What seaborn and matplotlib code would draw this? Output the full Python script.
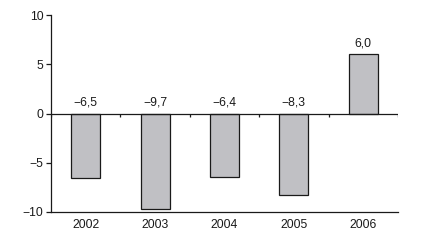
import matplotlib
matplotlib.use("Agg")
import matplotlib.pyplot as plt
import seaborn as sns
import numpy as np
import pandas as pd

years = ["2002", "2003", "2004", "2005", "2006"]
values = [-6.5, -9.7, -6.4, -8.3, 6.0]
labels = ["\u22126,5", "\u22129,7", "\u22126,4", "\u22128,3", "6,0"]
yticks = [-10, -5, 0, 5, 10]
yticklabels = ["\u221210", "\u22125", "0", "5", "10"]

sns.set_style("white")
plt.rcParams['font.family'] = ['Liberation Sans', 'DejaVu Sans']

fig = plt.figure(figsize=(4.34, 2.43), dpi=100)
ax = fig.add_axes([0.1175, 0.1276, 0.7995, 0.8104])

df = pd.DataFrame({"year": years, "value": values})
sns.barplot(data=df, x="year", y="value", color="#c0c0c4", width=0.42,
            edgecolor="#1a1a1a", linewidth=0.9, saturation=1, ax=ax)

n = len(years)
ax.set_xlim(-0.5, n - 0.5)
ax.set_ylim(-10, 10)
ax.set_yticks(yticks)
ax.set_yticklabels(yticklabels)
ax.set_xlabel("")
ax.set_ylabel("")

for s in ["top", "right"]:
    ax.spines[s].set_visible(False)
for s in ["left", "bottom"]:
    ax.spines[s].set_color("#1a1a1a")
    ax.spines[s].set_linewidth(0.9)

fs = 8.7
bounds = np.arange(n + 1) - 0.5
ax.set_xticks(bounds, minor=True)
ax.tick_params(axis="x", which="major", length=0, labelsize=fs, pad=5, colors="#1a1a1a")
ax.tick_params(axis="x", which="minor", length=3.5, width=0.9, direction="out", color="#1a1a1a")
ax.tick_params(axis="y", which="major", length=3.5, width=0.9, labelsize=fs, pad=2, colors="#1a1a1a", left=True)

# zero line with tick marks at category boundaries
ax.axhline(0, color="#1a1a1a", linewidth=0.9, zorder=3)
ax.vlines(bounds, -0.4, 0, color="#1a1a1a", linewidth=0.9, zorder=3)

for i, (v, lab) in enumerate(zip(values, labels)):
    y = max(v, 0)
    ax.text(i, y + 0.55, lab, ha="center", va="bottom", fontsize=fs, color="#1a1a1a")

fig.savefig("out.png", dpi=100)
